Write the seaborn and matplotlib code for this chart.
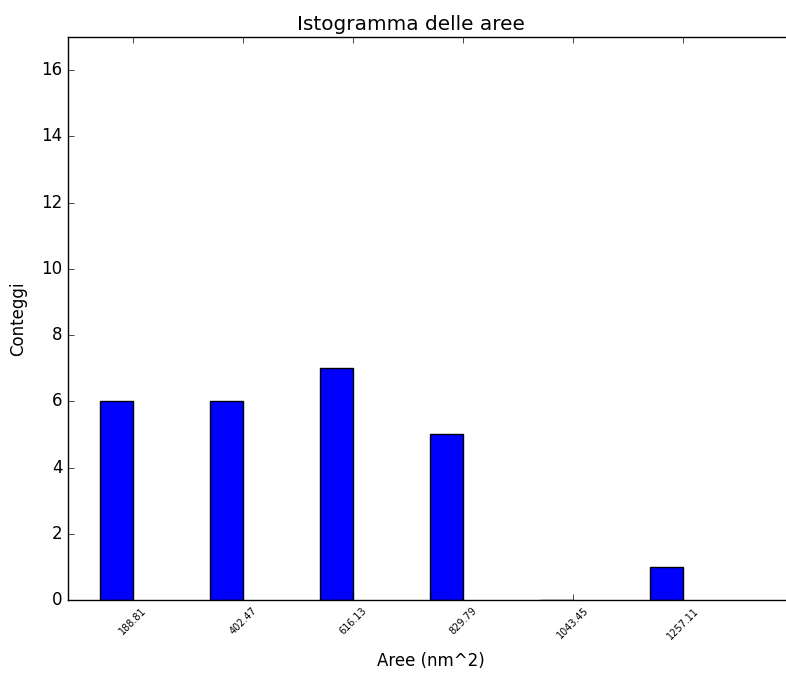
import numpy as np
import pandas as pd
import matplotlib
matplotlib.use('Agg')
import matplotlib.pyplot as plt
import seaborn as sns

# bin labels (right edge of each bar) and counts
bin_labels = [188.81, 402.47, 616.13, 829.79, 1043.45, 1257.11]
counts = [6, 6, 7, 5, 0, 1]

plt.style.use('classic')
plt.rcParams['font.family'] = ['DejaVu Sans']

bin_width = bin_labels[1] - bin_labels[0]
bar_frac = 0.3
# bars end at the tick value
centers = np.array(bin_labels) - bar_frac * bin_width / 2
df = pd.DataFrame({'centro': centers, 'conteggi': counts})

fig = plt.figure(figsize=(7.86, 6.76), dpi=100, facecolor='white')
ax = fig.add_axes([0.0865, 0.1124, 0.9235, 0.8328])
ax.set_facecolor('white')

sns.barplot(data=df, x='centro', y='conteggi', native_scale=True,
            width=bar_frac, color='#0000ff', saturation=1,
            edgecolor='black', linewidth=1, ax=ax)

ax.set_xticks(bin_labels)
ax.set_xticklabels(['%.2f' % v for v in bin_labels], rotation=45, fontsize=7)
ax.set_xlim(62.5, 1473)
ax.set_ylim(0, 17)
ax.set_yticks(range(0, 17, 2))
ax.set_xlabel('Aree (nm^2)', fontsize=12, labelpad=8)
ax.set_ylabel('Conteggi', fontsize=12, labelpad=10)
ax.set_title('Istogramma delle aree', fontsize=14.4, x=0.4725)

fig.savefig('out.png', dpi=100, facecolor='white')
